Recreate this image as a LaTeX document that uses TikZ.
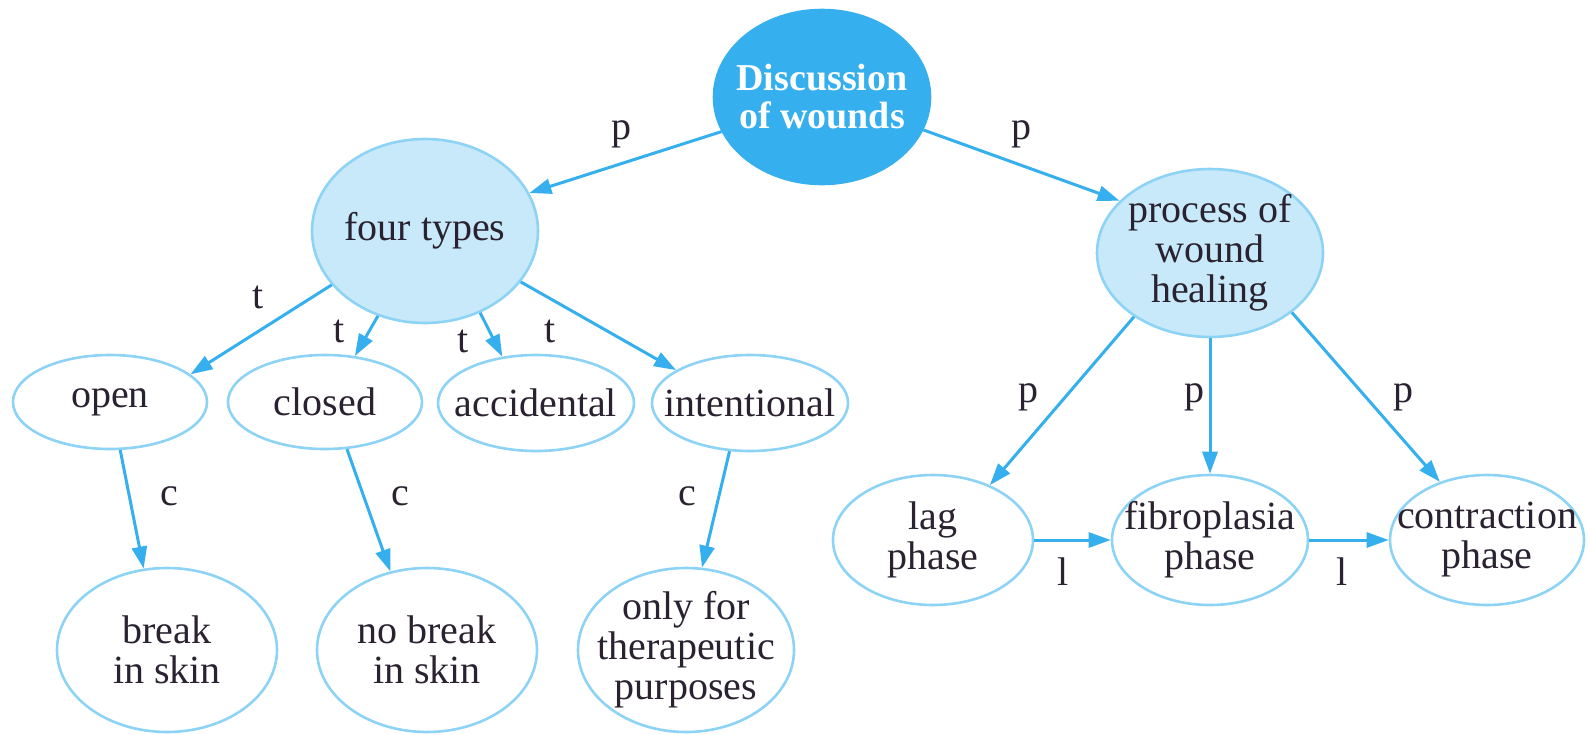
\documentclass[tikz,border=0pt]{standalone}
\usepackage{fontspec}
\setmainfont{Liberation Serif}
\usetikzlibrary{shapes.geometric,arrows.meta}
\definecolor{skyblue}{HTML}{35AFEE}
\definecolor{paleblue}{HTML}{C8E9F9}
\definecolor{rimblue}{HTML}{8DD3F5}
\definecolor{inkcol}{HTML}{2A2230}

\begin{document}
\begin{tikzpicture}[x=0.5pt,y=-0.5pt,
  bubble/.style={ellipse, draw=rimblue, line width=1.3pt, inner sep=0pt},
  rootbubble/.style={bubble, fill=skyblue, draw=skyblue},
  midbubble/.style={bubble, fill=paleblue},
  words/.style={inner sep=0pt, align=center, text=inkcol, font=\fontsize{20}{20}\selectfont},
  rootwords/.style={words, text=white, font=\bfseries\fontsize{19}{19}\selectfont},
  link/.style={draw=skyblue, line width=1.5pt, -{Triangle[length=11pt,width=7.5pt]}},
  tag/.style={text=inkcol, font=\fontsize{20}{20}\selectfont, anchor=base, inner sep=0pt}
]
\useasboundingbox (0,0) rectangle (1589,734);

% concept bubbles (outline first, wording on top)
\node[rootbubble, minimum width=108pt, minimum height=87pt] (root) at (822,97) {};
\node[midbubble, minimum width=113pt, minimum height=92pt] (four) at (425,231) {};
\node[midbubble, minimum width=113pt, minimum height=84pt] (process) at (1210,253) {};

\node[bubble, minimum width=97pt, minimum height=47pt] (open) at (110,402) {};
\node[bubble, minimum width=97pt, minimum height=47pt] (closed) at (325,402) {};
\node[bubble, minimum width=98pt, minimum height=48pt] (accidental) at (536,403) {};
\node[bubble, minimum width=98pt, minimum height=48pt] (intentional) at (750,403) {};

\node[bubble, minimum width=110pt, minimum height=82pt] (break) at (167,650) {};
\node[bubble, minimum width=110pt, minimum height=82pt] (nobreak) at (427,650) {};
\node[bubble, minimum width=108pt, minimum height=82pt] (therapeutic) at (686,650) {};

\node[bubble, minimum width=100pt, minimum height=65pt] (lag) at (933,540) {};
\node[bubble, minimum width=98pt, minimum height=65pt] (fibro) at (1210,540) {};
\node[bubble, minimum width=97pt, minimum height=65pt] (contraction) at (1487,540) {};

\node[rootwords] (root-w) at (root) {Discussion\\of wounds};
\node[words] (four-w) at (four) {four types};
\node[words] (process-w) at (process) {process of\\wound\\healing};
\node[words] (open-w) at (open) {open};
\node[words] (closed-w) at (closed) {closed};
\node[words] (accidental-w) at (accidental) {accidental};
\node[words] (intentional-w) at (intentional) {intentional};
\node[words] (break-w) at (break) {break\\in skin};
\node[words] (nobreak-w) at (nobreak) {no break\\in skin};
\node[words] (therapeutic-w) at (therapeutic) {only for\\therapeutic\\purposes};
\node[words] (lag-w) at (lag) {lag\\phase};
\node[words] (fibro-w) at (fibro) {fibroplasia\\phase};
\node[words] (contraction-w) at (contraction) {contraction\\phase};

% links
\draw[link] (root.199) -- (four.20);
\draw[link] (root.-18) -- (process.150);
\draw[link] (four.210) -- (open.19);
\draw[link] (four.241) -- (closed.57);
\draw[link] (four.-56) -- (accidental.126);
\draw[link] (four.-28) -- (intentional.156);
\draw[link] (open.-78) -- (break.106);
\draw[link] (closed.-65) -- (nobreak.115);
\draw[link] (intentional.-113) -- (therapeutic.79);
\draw[link] (process.220) -- (lag.44);
\draw[link] (process.-90) -- (fibro.90);
\draw[link] (process.-36) -- (contraction.129);
\draw[link] (lag.east) -- (fibro.west);
\draw[link] (fibro.east) -- (contraction.west);

% link labels
\node[tag] (p1) at (621,139) {p};
\node[tag] (p2) at (1021,139) {p};
\node[tag] (t1) at (258,308) {t};
\node[tag] (t2) at (339,342) {t};
\node[tag] (t3) at (463,352) {t};
\node[tag] (t4) at (550,342) {t};
\node[tag] (c1) at (169,505) {c};
\node[tag] (c2) at (400,505) {c};
\node[tag] (c3) at (687,505) {c};
\node[tag] (p3) at (1028,402) {p};
\node[tag] (p4) at (1194,402) {p};
\node[tag] (p5) at (1403,402) {p};
\node[tag] (l1) at (1063,585) {l};
\node[tag] (l2) at (1342,585) {l};
\end{tikzpicture}
\end{document}
